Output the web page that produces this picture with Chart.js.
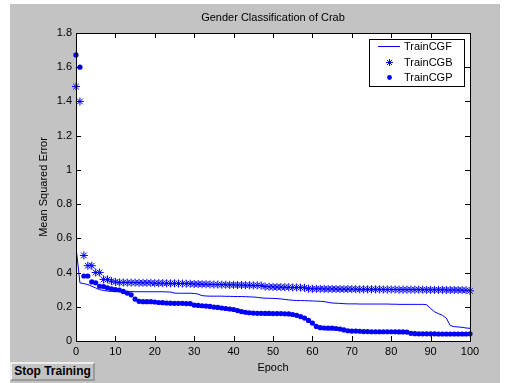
<!DOCTYPE html>
<html>
<head>
<meta charset="utf-8">
<script src="https://cdn.jsdelivr.net/npm/chart.js@4.4.0/dist/chart.umd.min.js"></script>
<style>
  html, body { margin: 0; padding: 0; background: #fff; }
  #fig { position: absolute; left: 10px; top: 4px; width: 490px; height: 379px; background: #c3c3c3; }
  #myChart { position: absolute; left: 0; top: 0; }
  #stop {
    position: absolute; left: 10px; top: 362px; width: 81px; height: 15px;
    background: #c3c3c3; border: 2px outset #eee;
    font: bold 12px "Liberation Sans", Arial, sans-serif; line-height: 15px;
    text-align: center; color: #000;
  }
</style>
</head>
<body>
<div id="fig"></div>
<canvas id="myChart" width="507" height="383"></canvas>
<div id="stop">Stop Training</div>
<script>
// epocas 0..100
const epochs = Array.from({ length: 101 }, (_, i) => i);

const trainCGF = [
  0.55, 0.34, 0.335, 0.33, 0.32, 0.31, 0.30, 0.295, 0.292, 0.29,
  0.29, 0.29, 0.29, 0.289, 0.289, 0.288, 0.288, 0.288, 0.288, 0.288,
  0.288, 0.288, 0.288, 0.287, 0.286, 0.28, 0.279, 0.279, 0.279, 0.279,
  0.278, 0.274, 0.265, 0.263, 0.262, 0.262, 0.262, 0.262, 0.261, 0.261,
  0.26, 0.26, 0.26, 0.259, 0.258, 0.257, 0.255, 0.252, 0.25, 0.25,
  0.249, 0.248, 0.246, 0.243, 0.24, 0.238, 0.237, 0.236, 0.236, 0.235,
  0.234, 0.233, 0.232, 0.23, 0.226, 0.222, 0.221, 0.22, 0.218, 0.217,
  0.217, 0.217, 0.216, 0.216, 0.216, 0.216, 0.216, 0.216, 0.216, 0.216,
  0.215, 0.215, 0.214, 0.214, 0.214, 0.214, 0.214, 0.214, 0.214, 0.212,
  0.19, 0.171, 0.16, 0.15, 0.133, 0.09, 0.084, 0.082, 0.08, 0.076,
  0.074
];

const trainCGB = [
  1.487, 1.40, 0.50, 0.44, 0.44, 0.40, 0.40, 0.36, 0.36, 0.35,
  0.345, 0.342, 0.342, 0.341, 0.341, 0.341, 0.340, 0.340, 0.340, 0.340,
  0.338, 0.338, 0.338, 0.337, 0.337, 0.337, 0.336, 0.336, 0.335, 0.335,
  0.333, 0.333, 0.332, 0.332, 0.331, 0.330, 0.330, 0.329, 0.329, 0.328,
  0.328, 0.327, 0.327, 0.326, 0.326, 0.325, 0.325, 0.324, 0.318, 0.317,
  0.316, 0.315, 0.315, 0.314, 0.314, 0.313, 0.313, 0.312, 0.311, 0.306,
  0.305, 0.305, 0.305, 0.304, 0.304, 0.304, 0.304, 0.303, 0.303, 0.303,
  0.303, 0.303, 0.302, 0.302, 0.302, 0.302, 0.302, 0.302, 0.301, 0.301,
  0.301, 0.301, 0.300, 0.300, 0.300, 0.300, 0.300, 0.300, 0.300, 0.299,
  0.299, 0.299, 0.299, 0.299, 0.298, 0.298, 0.298, 0.298, 0.297, 0.297,
  0.293
];

const trainCGP = [
  1.672, 1.60, 0.38, 0.38, 0.345, 0.34, 0.32, 0.318, 0.31, 0.305,
  0.30, 0.298, 0.29, 0.28, 0.27, 0.245, 0.232, 0.23, 0.23, 0.23,
  0.228, 0.225, 0.224, 0.222, 0.221, 0.22, 0.22, 0.22, 0.219, 0.218,
  0.21, 0.208, 0.206, 0.204, 0.202, 0.198, 0.196, 0.193, 0.19, 0.187,
  0.184, 0.178, 0.172, 0.168, 0.165, 0.163, 0.162, 0.162, 0.161, 0.161,
  0.160, 0.160, 0.160, 0.159, 0.158, 0.155, 0.150, 0.143, 0.134, 0.12,
  0.105, 0.085, 0.078, 0.076, 0.075, 0.075, 0.073, 0.07, 0.065, 0.06,
  0.058, 0.058, 0.057, 0.055, 0.055, 0.054, 0.054, 0.054, 0.054, 0.054,
  0.054, 0.054, 0.053, 0.053, 0.052, 0.045, 0.043, 0.042, 0.042, 0.042,
  0.042, 0.042, 0.041, 0.041, 0.041, 0.041, 0.041, 0.041, 0.041, 0.041,
  0.042
];

const seriesNames = ['TrainCGF', 'TrainCGB', 'TrainCGP'];
const xTicks = [0, 10, 20, 30, 40, 50, 60, 70, 80, 90, 100];
const yTicks = [0, 0.2, 0.4, 0.6, 0.8, 1, 1.2, 1.4, 1.6, 1.8];

const azul = '#0000ff';
const FONT = '"Liberation Sans", Arial, sans-serif';

function pontos(vals) {
  return epochs.map((e, i) => ({ x: e, y: vals[i] }));
}

function estrela(ctx, x, y, r) {
  const d = r * Math.SQRT1_2;
  ctx.beginPath();
  ctx.moveTo(x - r, y); ctx.lineTo(x + r, y);
  ctx.moveTo(x, y - r); ctx.lineTo(x, y + r);
  ctx.moveTo(x - d, y - d); ctx.lineTo(x + d, y + d);
  ctx.moveTo(x - d, y + d); ctx.lineTo(x + d, y - d);
  ctx.stroke();
}

// caixa, ticks internos, rotulos, titulos e legenda no estilo MATLAB
const estiloMatlab = {
  id: 'estiloMatlab',
  beforeDatasetsDraw(chart) {
    const { ctx, chartArea: a } = chart;
    ctx.save();
    ctx.fillStyle = '#fff';
    ctx.fillRect(a.left, a.top, a.right - a.left, a.bottom - a.top);
    ctx.restore();
  },
  afterDraw(chart) {
    const { ctx, chartArea: a, scales } = chart;
    ctx.save();
    ctx.strokeStyle = '#000';
    ctx.lineWidth = 1;
    ctx.strokeRect(a.left + 0.5, a.top + 0.5, a.right - a.left, a.bottom - a.top);
    ctx.beginPath();
    xTicks.forEach(t => {
      const x = Math.round(scales.x.getPixelForValue(t)) + 0.5;
      ctx.moveTo(x, a.bottom); ctx.lineTo(x, a.bottom - 5);
      ctx.moveTo(x, a.top); ctx.lineTo(x, a.top + 5);
    });
    yTicks.forEach(t => {
      const y = Math.round(scales.y.getPixelForValue(t)) + 0.5;
      ctx.moveTo(a.left, y); ctx.lineTo(a.left + 5, y);
      ctx.moveTo(a.right, y); ctx.lineTo(a.right - 5, y);
    });
    ctx.stroke();

    ctx.fillStyle = '#000';
    ctx.font = '11px ' + FONT;
    ctx.textBaseline = 'middle';

    // rotulos dos ticks
    ctx.textAlign = 'center';
    xTicks.forEach(t => ctx.fillText(String(t), scales.x.getPixelForValue(t), a.bottom + 11));
    ctx.textAlign = 'right';
    yTicks.forEach(t => ctx.fillText(String(t), a.left - 4, scales.y.getPixelForValue(t)));

    // titulos
    ctx.textAlign = 'center';
    const cx = (a.left + a.right) / 2;
    ctx.fillText('Gender Classification of Crab', cx, 18);
    ctx.fillText('Epoch', cx, 368);
    ctx.save();
    ctx.translate(44, (a.top + a.bottom) / 2);
    ctx.rotate(-Math.PI / 2);
    ctx.fillText('Mean Squared Error', 0, 0);
    ctx.restore();

    // legenda
    const lx = 369, ly = 39, lw = 95, lh = 47;
    ctx.fillStyle = '#fff';
    ctx.fillRect(lx, ly, lw, lh);
    ctx.strokeStyle = '#000';
    ctx.strokeRect(lx + 0.5, ly + 0.5, lw, lh);
    const rows = [46, 62, 77];
    ctx.strokeStyle = azul;
    ctx.fillStyle = azul;
    ctx.beginPath();
    ctx.moveTo(378, rows[0] + 0.5); ctx.lineTo(400, rows[0] + 0.5);
    ctx.stroke();
    estrela(ctx, 389.5, rows[1] + 0.5, 3.5);
    ctx.beginPath();
    ctx.arc(389.5, rows[2] + 0.5, 2.4, 0, Math.PI * 2);
    ctx.fill();
    ctx.fillStyle = '#000';
    ctx.textAlign = 'left';
    seriesNames.forEach((n, i) => ctx.fillText(n, 404, rows[i] + 1));
    ctx.restore();
  }
};

Chart.defaults.font.family = FONT;
Chart.defaults.font.size = 11;
Chart.defaults.color = '#000';

const ctx = document.getElementById('myChart').getContext('2d');
const myChart = new Chart(ctx, {
  type: 'line',
  data: {
    datasets: [{
      label: seriesNames[0],
      data: pontos(trainCGF),
      borderColor: azul,
      borderWidth: 1,
      pointRadius: 0,
      fill: false,
      tension: 0
    }, {
      label: seriesNames[1],
      data: pontos(trainCGB),
      showLine: false,
      pointStyle: 'star',
      pointRadius: 4,
      pointBorderWidth: 1,
      borderColor: azul,
      backgroundColor: azul,
      clip: false
    }, {
      label: seriesNames[2],
      data: pontos(trainCGP),
      showLine: false,
      pointStyle: 'circle',
      pointRadius: 2.6,
      pointBorderWidth: 0,
      borderColor: azul,
      backgroundColor: azul,
      clip: false
    }]
  },
  options: {
    responsive: false,
    animation: false,
    layout: { padding: { top: 33, right: 37, left: 0, bottom: 0 } },
    plugins: {
      legend: { display: false },
      tooltip: { enabled: false },
      title: { display: false }
    },
    scales: {
      x: {
        type: 'linear',
        min: 0,
        max: 100,
        ticks: { stepSize: 10, display: false },
        grid: { display: false, drawTicks: false },
        border: { display: false },
        afterFit: s => { s.height = 42; }
      },
      y: {
        min: 0,
        max: 1.8,
        ticks: { stepSize: 0.2, display: false },
        grid: { display: false, drawTicks: false },
        border: { display: false },
        afterFit: s => { s.width = 76; }
      }
    }
  },
  plugins: [estiloMatlab]
});
</script>
</body>
</html>
